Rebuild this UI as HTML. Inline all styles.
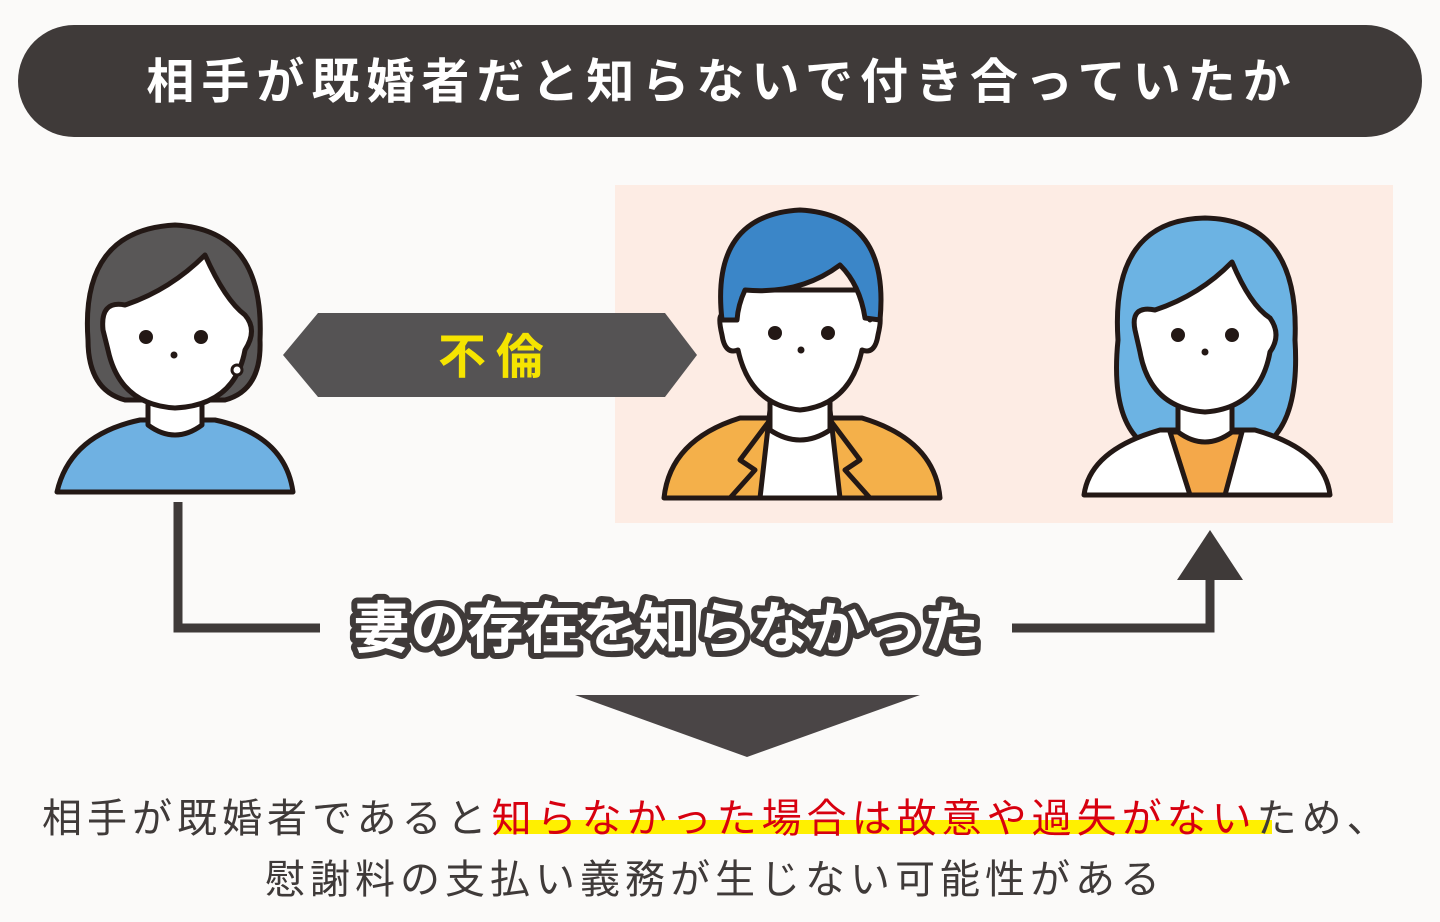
<!DOCTYPE html>
<html><head><meta charset="utf-8"><style>
html,body{margin:0;padding:0;background:#fbfaf9;}
svg{display:block}
text{font-family:"Liberation Sans","Noto Sans CJK JP",sans-serif;}
</style></head><body>
<svg width="1440" height="922" viewBox="0 0 1440 922" xmlns="http://www.w3.org/2000/svg">
<rect width="1440" height="922" fill="#fbfaf9"/>
<rect x="18" y="25" width="1404" height="112" rx="56" fill="#3f3a39"/>
<text x="722" y="98" text-anchor="middle" font-size="48" font-weight="bold" fill="#fff" letter-spacing="7">相手が既婚者だと知らないで付き合っていたか</text>
<rect x="615" y="185" width="778" height="338" fill="#fdece4"/>

<!-- left woman -->
<g stroke="#231815" stroke-width="5" stroke-linejoin="round">
<path d="M57 492 Q70 435 140 420 L215 420 Q285 435 293 492 Z" fill="#6fb1e2"/>
<path d="M148 395 L148 425 Q175 445 202 425 L202 395 Z" fill="#fff"/>
<path d="M88 340 Q80 230 175 225 Q265 230 260 340 Q262 390 225 400 L125 400 Q88 390 88 340 Z" fill="#595757"/>
<path d="M103 330 Q100 300 125 305 Q170 290 205 255 Q225 300 245 315 Q258 330 245 350 Q235 405 175 408 Q120 405 108 350 Z" fill="#fff"/>
</g>
<circle cx="146" cy="337" r="7" fill="#231815"/><circle cx="201" cy="337" r="7" fill="#231815"/>
<circle cx="174" cy="355" r="3.5" fill="#231815"/>
<circle cx="237" cy="370" r="5" fill="#fff" stroke="#231815" stroke-width="3"/>

<!-- man -->
<g stroke="#231815" stroke-width="5" stroke-linejoin="round">
<path d="M664 498 Q670 440 740 418 L862 418 Q935 440 940 498 Z" fill="#f4b04a"/>
<path d="M770 410 L760 498 L840 498 L830 410 Z" fill="#fff"/>
<path d="M770 420 L740 460 L755 470 L730 498 M830 420 L860 460 L845 470 L870 498" fill="none"/>
<path d="M770 395 L770 430 Q800 450 830 430 L830 395 Z" fill="#fff"/>
<path d="M730 320 Q715 305 722 335 Q725 355 738 350 Q750 405 800 410 Q850 405 862 350 Q875 355 878 335 Q885 305 870 320 Q870 300 860 290 L740 290 Q730 300 730 320 Z" fill="#fff"/>
<path d="M722 320 Q710 215 800 210 Q890 215 880 320 L865 318 Q860 285 840 265 Q800 295 745 290 Q738 305 737 320 Z" fill="#3b86c8"/>
</g>
<circle cx="775" cy="333" r="7" fill="#231815"/><circle cx="828" cy="333" r="7" fill="#231815"/>
<circle cx="801" cy="350" r="3.5" fill="#231815"/>

<!-- right woman -->
<g stroke="#231815" stroke-width="5" stroke-linejoin="round">
<path d="M1118 340 Q1110 220 1205 218 Q1300 220 1295 340 Q1300 420 1265 445 L1145 445 Q1110 420 1118 340 Z" fill="#6cb3e3"/>
<path d="M1084 495 Q1090 450 1160 430 L1255 430 Q1325 450 1330 495 Z" fill="#fff"/>
<path d="M1170 432 L1190 495 L1225 495 L1242 432 Z" fill="#f4a84a"/>
<path d="M1178 395 L1178 432 Q1205 452 1232 432 L1232 395 Z" fill="#fff"/>
<path d="M1135 330 Q1130 305 1155 310 Q1200 295 1232 262 Q1250 305 1270 318 Q1282 335 1270 352 Q1260 408 1205 412 Q1150 408 1140 352 Z" fill="#fff"/>
</g>
<circle cx="1178" cy="335" r="7" fill="#231815"/><circle cx="1232" cy="335" r="7" fill="#231815"/>
<circle cx="1205" cy="352" r="3.5" fill="#231815"/>

<!-- 不倫 -->
<polygon points="283,355 318,313 665,313 697,355 665,397 318,397" fill="#555354"/>
<text x="496" y="373" text-anchor="middle" font-size="48" font-weight="bold" fill="#f5e400" letter-spacing="10">不倫</text>

<!-- connector -->
<path d="M178 502 L178 628 L320 628 M1012 628 L1210 628 L1210 578" fill="none" stroke="#3f3a39" stroke-width="9"/>
<polygon points="1177,580 1243,580 1210,530" fill="#3f3a39"/>
<text x="667" y="648" text-anchor="middle" font-size="56" font-weight="bold" fill="#fff" stroke="#3f3a39" stroke-width="12" stroke-linejoin="round" paint-order="stroke" letter-spacing="1">妻の存在を知らなかった</text>

<polygon points="575,695 920,695 747,757" fill="#4a4546"/>

<!-- bottom -->
<rect x="497" y="820" width="775" height="14" fill="#fff000"/>
<text x="42" y="832" font-size="40" fill="#3f3a39" letter-spacing="5"><tspan>相手が既婚者であると</tspan><tspan fill="#d7000f">知らなかった場合は故意や過失がない</tspan><tspan>ため、</tspan></text>
<text x="715" y="893" text-anchor="middle" font-size="40" fill="#3f3a39" letter-spacing="5">慰謝料の支払い義務が生じない可能性がある</text>
</svg>
</body></html>
